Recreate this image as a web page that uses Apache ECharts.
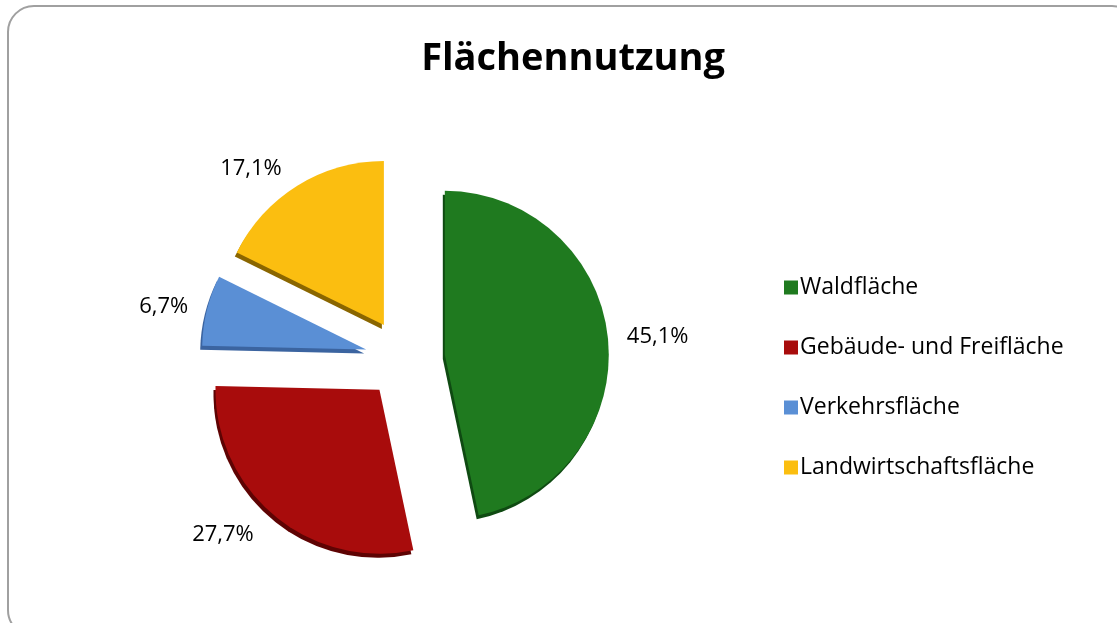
<!DOCTYPE html>
<html lang="de">
<head>
    <meta charset="UTF-8">
    <script src="https://cdn.jsdelivr.net/npm/echarts@6/dist/echarts.min.js"></script>
    <style>
        html, body {margin: 0; padding: 0; background: #fff; overflow: hidden;}
        #main {width: 1117px; height: 623px;}
    </style>
</head>
<body>
<div id="main"></div>
<script>
    // Daten
    const categories = ['Waldfläche', 'Gebäude- und Freifläche', 'Verkehrsfläche', 'Landwirtschaftsfläche'];
    const values = [45.1, 27.7, 6.7, 17.1];

    // Farben (Fläche / dunkle Kante)
    const colors = ['#1f7a1f', '#a80c0c', '#5a8fd5', '#fbbe10'];
    const edgeColors = ['#0f4a12', '#5e0303', '#3b64a0', '#8a6600'];
    // Abstand Beschriftung je Segment (wie im Original verschoben)
    const labelDist = [14, 25, 14, 20];
    const fontName = 'Open Sans';

    const chart = echarts.init(document.getElementById('main'));

    let pieData = [];
    for (let i = 0; i < categories.length; i++) {
        pieData.push({
            name: categories[i],
            value: values[i],
            selected: true,
            labelLine: {show: false, length: labelDist[i], length2: 0},
            itemStyle: {
                color: colors[i],
                shadowColor: edgeColors[i],
                shadowBlur: 0,
                shadowOffsetX: -2,
                shadowOffsetY: 4
            }
        });
    }

    const option = {
        animation: false,
        backgroundColor: '#fff',
        title: {
            text: 'Flächennutzung',
            left: 568,
            top: 35,
            textAlign: 'center',
            textStyle: {fontFamily: fontName, fontWeight: 'bold', fontSize: 38, color: '#000'}
        },
        legend: {
            orient: 'vertical',
            left: 779,
            top: 271,
            itemWidth: 14,
            itemHeight: 14,
            itemGap: 37,
            icon: 'rect',
            data: categories,
            textStyle: {fontFamily: fontName, fontSize: 23, color: '#000', padding: [0, 0, 0, -3]}
        },
        graphic: [{
            type: 'rect',
            shape: {x: 8, y: 6, width: 1130, height: 630, r: 26},
            style: {fill: 'none', stroke: '#a0a0a0', lineWidth: 2},
            z: -1
        }],
        series: [{
            type: 'pie',
            center: [405, 359],
            radius: 164,
            startAngle: 90,
            clockwise: true,
            selectedMode: 'multiple',
            selectedOffset: 40,
            avoidLabelOverlap: false,
            emphasis: {disabled: true},
            label: {
                show: true,
                position: 'outside',
                fontFamily: fontName,
                fontSize: 22,
                color: '#000',
                formatter: function (p) {
                    return p.value.toFixed(1).replace('.', ',') + '%';
                }
            },
            labelLine: {show: false, length: 14, length2: 0},
            data: pieData
        }]
    };
    chart.setOption(option);
</script>
</body>
</html>
